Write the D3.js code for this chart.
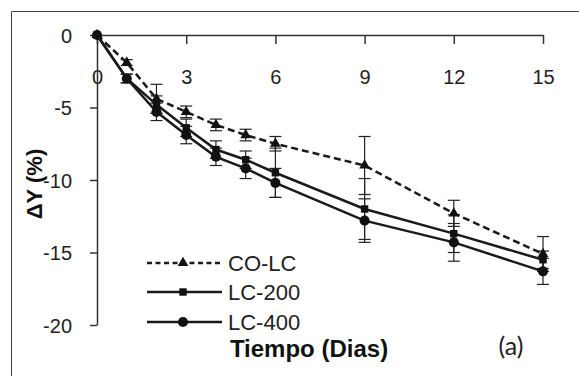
<!DOCTYPE html>
<html lang="es">
<head>
    <meta charset="UTF-8">
    <title>Delta Y vs tiempo</title>
    <script src="https://cdn.jsdelivr.net/npm/d3@7"></script>
    <style>
        body{
            margin: 0;
            background: #ffffff;
        }
        .ejes path, .ejes line{
            stroke: #333;
            stroke-width: 1.5;
        }
        .ejes text{
            font-family: 'Liberation Sans', Arial, sans-serif;
            font-size: 20px;
            fill: #222;
        }
        .titulo{
            font-family: 'Liberation Sans', Arial, sans-serif;
            font-weight: 700;
            fill: #111;
        }
        .leyenda{
            font-family: 'Liberation Sans', Arial, sans-serif;
            font-size: 22px;
            fill: #222;
        }
        .serie{
            fill: none;
            stroke: #1a1a1a;
            stroke-width: 2.5;
        }
        .barraError{
            stroke: #222;
            stroke-width: 1.2;
        }
    </style>
</head>
<body>
<div id="grafico"></div>

<script>

// datos
var dias = [0, 1, 2, 3, 4, 5, 6, 9, 12, 15];
var coLC = [0, -1.9, -4.4, -5.3, -6.2, -6.9, -7.5, -9.0, -12.3, -15.1];
var coLCerr = [0, 0.2, 1.0, 0.4, 0.4, 0.4, 0.5, 2.0, 0.9, 1.2];
var lc200 = [0, -3.0, -4.8, -6.4, -7.9, -8.6, -9.5, -12.0, -13.7, -15.5];
var lc200err = [0, 0.3, 0.6, 0.6, 0.6, 0.6, 1.7, 2.1, 1.3, 0.6];
var lc400 = [0, -3.0, -5.3, -6.9, -8.4, -9.2, -10.2, -12.8, -14.3, -16.3];
var lc400err = [0, 0.3, 0.6, 0.6, 0.6, 0.7, 1.0, 1.5, 1.3, 0.9];
var ticksX = [0, 3, 6, 9, 12, 15];
var ticksY = [0, -5, -10, -15, -20];

var series = [
    {nombre: "CO-LC", valores: coLC, errores: coLCerr, simbolo: d3.symbolTriangle, tam: 50, guiones: "7,4"},
    {nombre: "LC-200", valores: lc200, errores: lc200err, simbolo: d3.symbolSquare, tam: 55, guiones: null},
    {nombre: "LC-400", valores: lc400, errores: lc400err, simbolo: d3.symbolCircle, tam: 80, guiones: null}
];

var w = 579;
var h = 376;

var xScale = d3.scaleLinear()
    .domain([0, 15])
    .range([97, 543]);

var yScale = d3.scaleLinear()
    .domain([0, -20])
    .range([35, 325]);

var grafico = d3.select("#grafico")
    .append("svg")
    .attr("width", w)
    .attr("height", h);

// marco exterior
grafico.append("path")
    .attr("d", "M11.5," + h + "V11.5H" + w)
    .attr("fill", "none")
    .attr("stroke", "#444")
    .attr("stroke-width", 1);

// ejes
var ejeX = d3.axisBottom(xScale)
    .tickValues(ticksX)
    .tickSize(9)
    .tickSizeOuter(0)
    .tickPadding(26);

var ejeY = d3.axisLeft(yScale)
    .tickValues(ticksY)
    .tickFormat(function(d){ return String(d); })
    .tickSize(7)
    .tickSizeOuter(0)
    .tickPadding(18);

grafico.append("g")
    .classed("ejes", true)
    .attr("transform", "translate(0," + yScale(0) + ")")
    .call(ejeX);

grafico.append("g")
    .classed("ejes", true)
    .attr("transform", "translate(" + xScale(0) + ",0)")
    .call(ejeY)
    .selectAll(".tick text")
    .attr("dy", "0.36em");

// barras de error
var capa = 6;
series.forEach(function(s){
    var g = grafico.append("g");
    dias.forEach(function(d, i){
        if (s.errores[i] <= 0) return;
        var x = xScale(d);
        var y1 = yScale(s.valores[i] + s.errores[i]);
        var y2 = yScale(s.valores[i] - s.errores[i]);
        g.append("line").classed("barraError", true)
            .attr("x1", x).attr("x2", x).attr("y1", y1).attr("y2", y2);
        g.append("line").classed("barraError", true)
            .attr("x1", x - capa).attr("x2", x + capa).attr("y1", y1).attr("y2", y1);
        g.append("line").classed("barraError", true)
            .attr("x1", x - capa).attr("x2", x + capa).attr("y1", y2).attr("y2", y2);
    });
});

// lineas y marcadores
var linea = d3.line()
    .x(function(d, i){ return xScale(dias[i]); })
    .y(function(d){ return yScale(d); });

series.forEach(function(s){
    grafico.append("path")
        .classed("serie", true)
        .attr("d", linea(s.valores))
        .attr("stroke-dasharray", s.guiones);

    grafico.selectAll(null)
        .data(s.valores)
        .enter()
        .append("path")
        .attr("d", d3.symbol().type(s.simbolo).size(s.tam))
        .attr("fill", "#111")
        .attr("transform", function(d, i){
            return "translate(" + xScale(dias[i]) + "," + yScale(d) + ")";
        });
});

// leyenda
var filasLeyenda = [263, 292, 322];
series.forEach(function(s, i){
    var yy = filasLeyenda[i];
    grafico.append("line")
        .classed("serie", true)
        .attr("x1", 147).attr("x2", 222)
        .attr("y1", yy).attr("y2", yy)
        .attr("stroke-dasharray", s.guiones ? "5,3.5" : null);
    grafico.append("path")
        .attr("d", d3.symbol().type(s.simbolo).size(s.tam))
        .attr("fill", "#111")
        .attr("transform", "translate(183," + yy + ")");
    grafico.append("text")
        .classed("leyenda", true)
        .attr("x", 228)
        .attr("y", yy + 8)
        .text(s.nombre);
});

// titulos
grafico.append("text")
    .classed("titulo", true)
    .attr("x", 309)
    .attr("y", 357)
    .attr("text-anchor", "middle")
    .style("font-size", "24px")
    .text("Tiempo (Dias)");

grafico.append("text")
    .classed("titulo", true)
    .attr("transform", "translate(42,184) rotate(-90)")
    .attr("text-anchor", "middle")
    .style("font-size", "22px")
    .text("ΔY (%)");

grafico.append("text")
    .attr("x", 511)
    .attr("y", 355)
    .attr("text-anchor", "middle")
    .style("font-family", "Lato, 'Open Sans', sans-serif")
    .style("font-size", "25px")
    .style("fill", "#222")
    .text("(a)");

</script>
</body>
</html>
